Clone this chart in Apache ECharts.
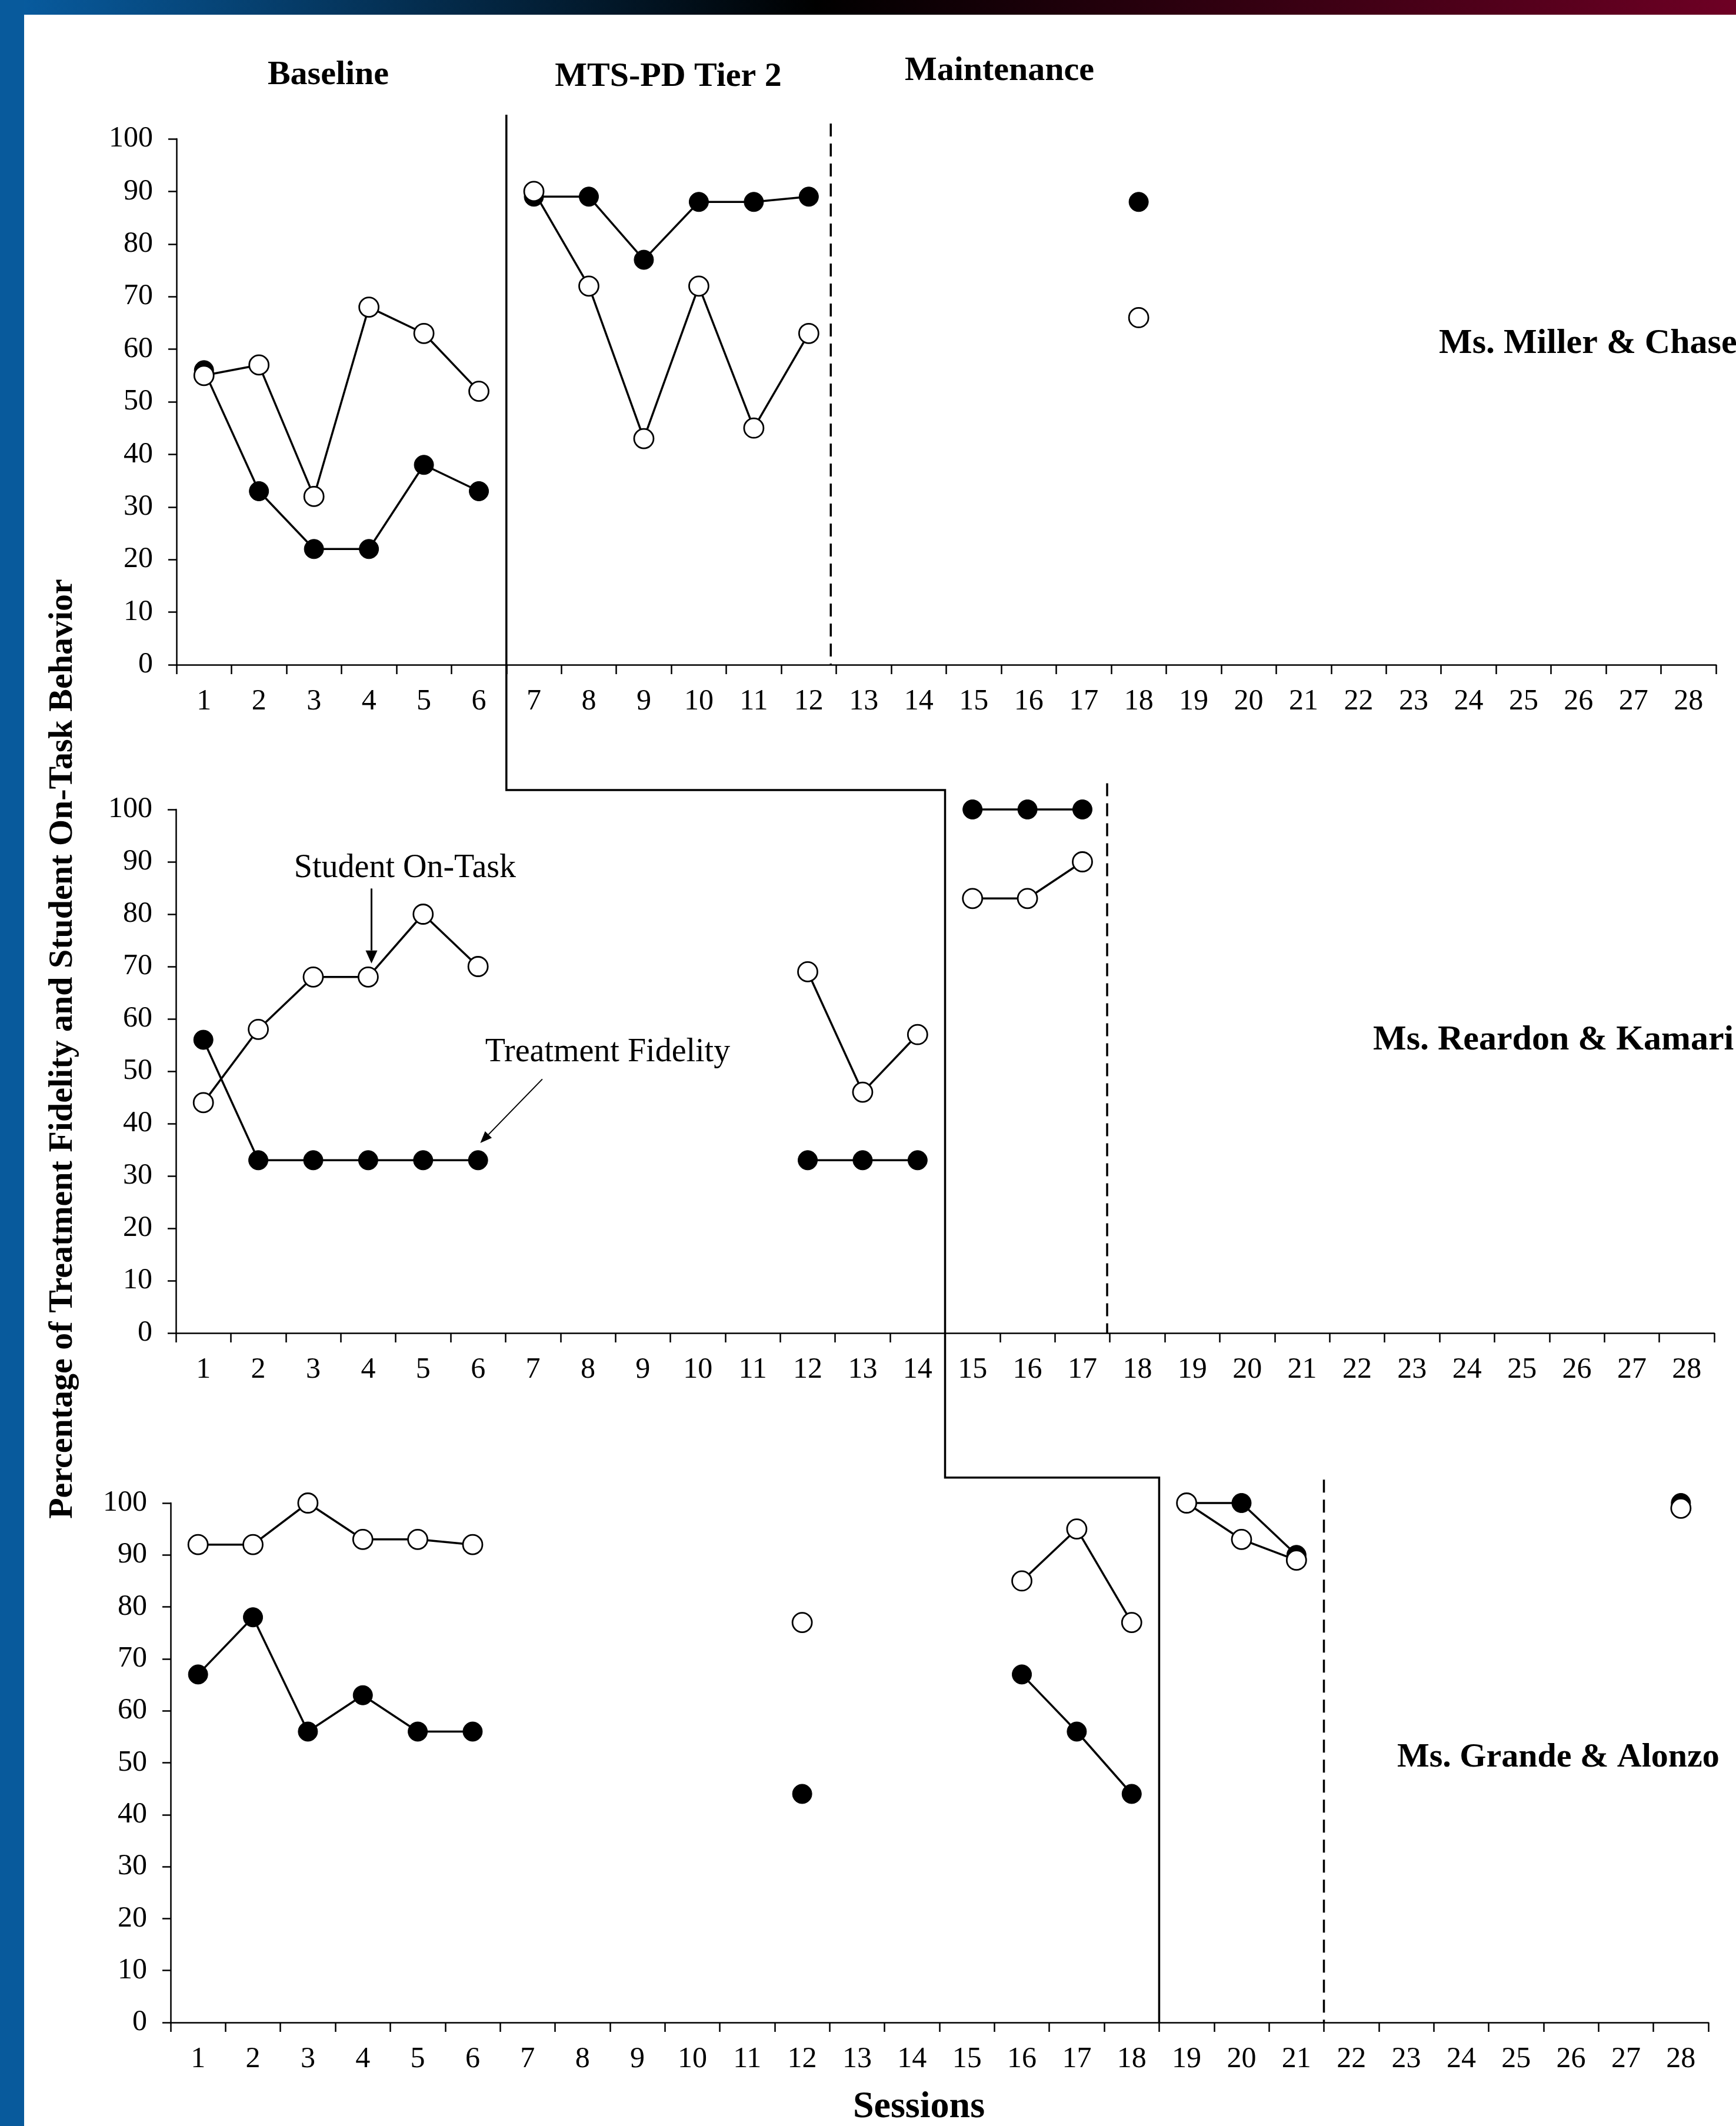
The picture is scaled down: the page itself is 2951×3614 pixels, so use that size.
<!DOCTYPE html>
<html>
<head>
<meta charset="utf-8">
<script src="https://cdn.jsdelivr.net/npm/echarts@6/dist/echarts.min.js"></script>
<style>
  html, body { margin: 0; padding: 0; background: #fff; }
  #chart { width: 2951px; height: 3614px; }
</style>
</head>
<body>
<div id="chart"></div>
<script>
const sessions = ['1', '2', '3', '4', '5', '6', '7', '8', '9', '10', '11', '12', '13', '14',
  '15', '16', '17', '18', '19', '20', '21', '22', '23', '24', '25', '26', '27', '28'];

// each series is a list of phase segments, points are [session, percent]
const millerFidelity = [
  [[1, 56], [2, 33], [3, 22], [4, 22], [5, 38], [6, 33]],
  [[7, 89], [8, 89], [9, 77], [10, 88], [11, 88], [12, 89]],
  [[18, 88]]
];
const millerOnTask = [
  [[1, 55], [2, 57], [3, 32], [4, 68], [5, 63], [6, 52]],
  [[7, 90], [8, 72], [9, 43], [10, 72], [11, 45], [12, 63]],
  [[18, 66]]
];
const reardonFidelity = [
  [[1, 56], [2, 33], [3, 33], [4, 33], [5, 33], [6, 33]],
  [[12, 33], [13, 33], [14, 33]],
  [[15, 100], [16, 100], [17, 100]]
];
const reardonOnTask = [
  [[1, 44], [2, 58], [3, 68], [4, 68], [5, 80], [6, 70]],
  [[12, 69], [13, 46], [14, 57]],
  [[15, 83], [16, 83], [17, 90]]
];
const grandeFidelity = [
  [[1, 67], [2, 78], [3, 56], [4, 63], [5, 56], [6, 56]],
  [[12, 44]],
  [[16, 67], [17, 56], [18, 44]],
  [[19, 100], [20, 100], [21, 90]],
  [[28, 100]]
];
const grandeOnTask = [
  [[1, 92], [2, 92], [3, 100], [4, 93], [5, 93], [6, 92]],
  [[12, 77]],
  [[16, 85], [17, 95], [18, 77]],
  [[19, 100], [20, 93], [21, 89]],
  [[28, 99]]
];

const panelNames = ['Ms. Miller & Chase', 'Ms. Reardon & Kamari', 'Ms. Grande & Alonzo'];
const phaseTitles = ['Baseline', 'MTS-PD Tier 2', 'Maintenance'];
// phase change (solid step) and start of maintenance (dashed), in session units
const phaseChange = [6.5, 14.5, 18.5];
const maintStart = [12.4, 17.45, 21.5];

const FONT = '"Liberation Serif", "Times New Roman", serif';

const grids = [
  { left: 300, top: 236, width: 2617, height: 894 },
  { left: 299, top: 1376, width: 2615, height: 890 },
  { left: 290, top: 2555, width: 2614, height: 883 }
];

const chart = echarts.init(document.getElementById('chart'), null, { renderer: 'canvas' });

const fidelityData = [millerFidelity, reardonFidelity, grandeFidelity];
const onTaskData = [millerOnTask, reardonOnTask, grandeOnTask];

const series = [];
function addSeries(panel, segments, open) {
  segments.forEach(seg => {
    series.push({
      type: 'line',
      xAxisIndex: panel,
      yAxisIndex: panel,
      data: seg.map(p => [String(p[0]), p[1]]),
      symbol: 'circle',
      symbolSize: 33,
      showSymbol: true,
      clip: false,
      z: open ? 4 : 3,
      lineStyle: { color: '#000', width: 3.5 },
      itemStyle: open
        ? { color: '#fff', borderColor: '#000', borderWidth: 2.8 }
        : { color: '#000', borderColor: '#000', borderWidth: 1 },
      emphasis: { disabled: true },
      animation: false
    });
  });
}
for (let p = 0; p < 3; p++) {
  addSeries(p, fidelityData[p], false);
  addSeries(p, onTaskData[p], true);
}

chart.setOption({
  backgroundColor: '#fff',
  animation: false,
  grid: grids.map(g => Object.assign({ outerBoundsMode: 'none', containLabel: false }, g)),
  xAxis: grids.map((g, i) => ({
    type: 'category',
    gridIndex: i,
    data: sessions,
    boundaryGap: true,
    axisLine: { show: true, lineStyle: { color: '#000', width: 2.5 } },
    axisTick: { show: true, length: 16, lineStyle: { color: '#000', width: 2.5 } },
    axisLabel: { interval: 0, color: '#000', fontFamily: FONT, fontSize: 50, margin: 38 },
    splitLine: { show: false }
  })),
  yAxis: grids.map((g, i) => ({
    type: 'value',
    gridIndex: i,
    min: 0,
    max: 100,
    interval: 10,
    axisLine: { show: true, lineStyle: { color: '#000', width: 2.5 } },
    axisTick: { show: true, length: 14, lineStyle: { color: '#000', width: 2.5 } },
    axisLabel: { color: '#000', fontFamily: FONT, fontSize: 50, margin: 40 },
    splitLine: { show: false }
  })),
  series: series
});

// helpers to place decorations through the axes
function xPx(p, s) {
  const lo = Math.floor(s);
  const f = s - lo;
  const a = chart.convertToPixel({ xAxisIndex: p }, String(lo));
  const b = chart.convertToPixel({ xAxisIndex: p }, String(lo + 1));
  return a + (b - a) * f;
}
function yPx(p, v) {
  return chart.convertToPixel({ yAxisIndex: p }, v);
}

function text(str, x, y, font, align, rotation) {
  return {
    type: 'text',
    x: x,
    y: y,
    rotation: rotation || 0,
    z: 100,
    style: {
      text: str,
      font: font,
      fill: '#000',
      align: align || 'center',
      verticalAlign: 'middle',
      textAlign: align || 'center',
      textVerticalAlign: 'middle'
    }
  };
}
function line(x1, y1, x2, y2, width, dash) {
  return {
    type: 'line',
    z: 50,
    shape: { x1: x1, y1: y1, x2: x2, y2: y2 },
    style: { stroke: '#000', lineWidth: width, lineDash: dash || null }
  };
}
function arrow(x1, y1, x2, y2, width, headLen, headHalf) {
  const dx = x2 - x1, dy = y2 - y1;
  const len = Math.sqrt(dx * dx + dy * dy);
  const ux = dx / len, uy = dy / len;
  const bx = x2 - ux * headLen, by = y2 - uy * headLen;
  return [
    line(x1, y1, bx, by, width),
    {
      type: 'polygon',
      z: 50,
      shape: { points: [[x2, y2], [bx - uy * headHalf, by + ux * headHalf], [bx + uy * headHalf, by - ux * headHalf]] },
      style: { fill: '#000' }
    }
  ];
}

const bold58 = 'bold 58px ' + FONT;
const bold60 = 'bold 60px ' + FONT;
const graphics = [];

// frame decoration
graphics.push({
  type: 'rect', z: 0,
  shape: { x: 0, y: 0, width: 2951, height: 25 },
  style: {
    fill: new echarts.graphic.LinearGradient(0, 0, 1, 0, [
      { offset: 0, color: '#085da2' },
      { offset: 0.47, color: '#000000' },
      { offset: 1, color: '#6e0024' }
    ])
  }
});
graphics.push({ type: 'rect', z: 0, shape: { x: 0, y: 0, width: 41, height: 3614 }, style: { fill: '#085a9c' } });

// phase titles
graphics.push(text(phaseTitles[0], 558, 128, bold58));
graphics.push(text(phaseTitles[1], 1136, 131, bold58));
graphics.push(text(phaseTitles[2], 1699, 121, bold58));

// participant labels
graphics.push(text(panelNames[0], 2446, 584, bold60, 'left'));
graphics.push(text(panelNames[1], 2334, 1768, bold60, 'left'));
graphics.push(text(panelNames[2], 2375, 2988, bold58, 'left'));

// axis titles
graphics.push(text('Percentage of Treatment Fidelity and Student On-Task Behavior', 107, 1783, bold58, 'center', Math.PI / 2));
graphics.push(text('Sessions', 1562, 3582, 'bold 64px ' + FONT));

// staggered phase-change line
const b1 = xPx(0, phaseChange[0]);
const b2 = xPx(1, phaseChange[1]);
const b3 = xPx(2, phaseChange[2]);
const yTop = yPx(0, 104.6);
const yStep1 = yPx(1, 103.7);
const yStep2 = yPx(2, 104.9);
const yBottom = yPx(2, 0);
graphics.push({
  type: 'polyline',
  z: 50,
  shape: { points: [[b1, yTop], [b1, yStep1], [b2, yStep1], [b2, yStep2], [b3, yStep2], [b3, yBottom]] },
  style: { stroke: '#000', lineWidth: 3.5, fill: null }
});

// maintenance dashed lines
const dashTops = [102.9, 105, 104.5];
for (let p = 0; p < 3; p++) {
  const x = xPx(p, maintStart[p]);
  graphics.push(line(x, yPx(p, dashTops[p]), x, yPx(p, 0), 3.5, [22, 12]));
}

// annotations in the second panel
graphics.push(text('Student On-Task', xPx(1, 4.67), yPx(1, 88.7), '56px ' + FONT));
graphics.push(...arrow(xPx(1, 4.06), yPx(1, 84.9), xPx(1, 4.06), yPx(1, 70.6), 3, 22, 10));
graphics.push(text('Treatment Fidelity', xPx(1, 6.13), yPx(1, 53.6), '56px ' + FONT, 'left'));
graphics.push(...arrow(xPx(1, 7.17), yPx(1, 48.5), xPx(1, 6.04), yPx(1, 36.3), 2, 20, 8));

chart.setOption({ graphic: { elements: graphics } });
</script>
</body>
</html>
